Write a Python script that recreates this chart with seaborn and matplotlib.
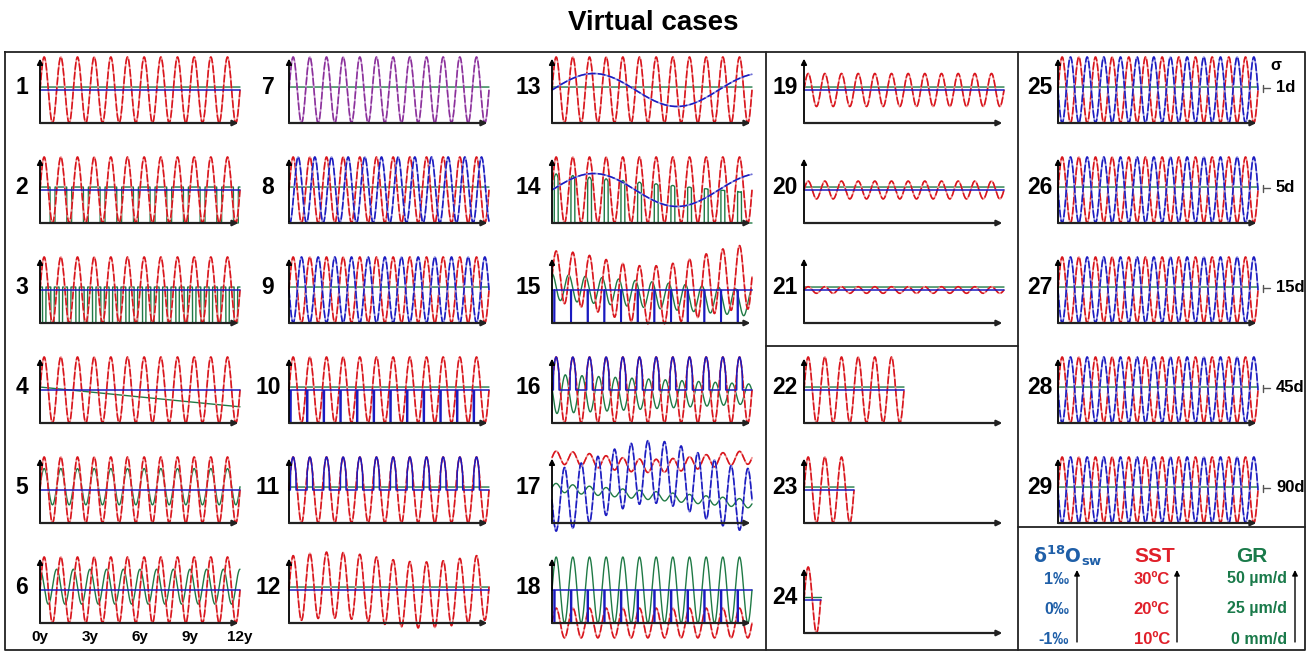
import numpy as np
import matplotlib
matplotlib.use("Agg")
import matplotlib.pyplot as plt
import seaborn as sns

sns.set_theme(style="white")
plt.rcParams["font.family"] = ["Liberation Sans", "DejaVu Sans"]
plt.rcParams["text.color"] = "black"

# ---------------- data ----------------
TITLE = "Virtual cases"
PANELS = list(range(1, 30))
YEAR_TICKS = ["0y", "3y", "6y", "9y", "12y"]
RECORD_YEARS = [12] * 21 + [6, 3, 1] + [12] * 5
SST_AMPLITUDE = [1, 1, 1, 1, 1, 1, 1, 1, 1, 1, 1, 1, 1, 1, 1, 1, 0.2, 0.45, 0.5, 0.27, 0.1, 1, 1, 1, 1, 1, 1, 1, 1]
SST_OFFSET = [0] * 16 + [0.98, -1.0] + [0] * 11
GR_LEVEL = 0.09
D18O_ANTIPHASE = [9, 25, 26, 27, 28, 29]
SIGMA_LABELS = ["1d", "5d", "15d", "45d", "90d"]
LEG_D18O = ["1‰", "0‰", "-1‰"]
LEG_SST = ["30ºC", "20ºC", "10ºC"]
LEG_GR = ["50 µm/d", "25 µm/d", "0 mm/d"]

RED, RED_L = "#d8141c", "#f09090"
BLUE, BLUE_L = "#1a1ac0", "#9090e0"
GREEN = "#1f7a45"
PURPLE = "#8a2f9a"

# ---------------- figure ----------------
W, H = 1307, 652
fig = plt.figure(figsize=(W / 100, H / 100), dpi=100)
bg = fig.add_axes([0, 0, 1, 1])
bg.set_xlim(0, W)
bg.set_ylim(H, 0)
bg.axis("off")

t = np.linspace(0, 12, 6001)
s = np.sin(2 * np.pi * t)


def px_axes(x0, ytop, w, h):
    ax = fig.add_axes([x0 / W, 1 - (ytop + h) / H, w / W, h / H])
    ax.set_xlim(0, 12)
    ax.set_ylim(-1, 1)
    ax.axis("off")
    return ax


def line(ax, x, y, color, light=None, lw=1.1, dashed=False):
    if light is not None:
        sns.lineplot(x=x, y=y, ax=ax, color=light, lw=lw + 0.1, estimator=None,
                     sort=False, legend=False, clip_on=False)
    ls = (0, (5, 1.5)) if dashed else "-"
    sns.lineplot(x=x, y=y, ax=ax, color=color, lw=lw, estimator=None, sort=False,
                 legend=False, linestyle=ls, clip_on=False)


def axes_arrows(ax):
    ax.annotate("", xy=(0, 0.95), xytext=(0, -1), xycoords="data",
                arrowprops=dict(arrowstyle="-|>", color="black", lw=1.3, mutation_scale=8,
                                shrinkA=0, shrinkB=0), annotation_clip=False)
    ax.annotate("", xy=(11.9, -1), xytext=(0, -1), xycoords="data",
                arrowprops=dict(arrowstyle="-|>", color="#222222", lw=1.6, mutation_scale=8,
                                shrinkA=0, shrinkB=0), annotation_clip=False)


def pulses(tt, phase, width, low=-1.0, high=0.0):
    return np.where(((tt - phase) % 1.0) < width, low, high)


col_x = [40, 289, 552, 804, 1058]
label_x = [22, 268, 528, 785, 1040]
col4_tops = [57, 157, 257, 357, 457, 567]

for p in PANELS:
    i = p - 1
    col = i // 6
    row = i % 6
    ytop = col4_tops[row] if col == 3 else 57 + 100 * row
    ax = px_axes(col_x[col], ytop, 200, 66)
    bg.text(label_x[col], ytop + 31, str(p), ha="center", va="center",
            fontsize=16.5, fontweight="bold")

    dur = RECORD_YEARS[i]
    m = t <= dur + 1e-9
    tt = t[m]
    ss = s[m]
    cc = np.cos(2 * np.pi * tt)
    slow = (1 - np.cos(2 * np.pi * tt / 12)) / 2
    red = SST_OFFSET[i] + SST_AMPLITUDE[i] * ss
    grn = np.full_like(tt, GR_LEVEL)
    blu = np.zeros_like(tt)
    purple = False

    if p == 2:
        grn = np.where(ss > -0.6, GR_LEVEL, -1.0)
    elif p == 3:
        grn = np.where(np.abs(ss) < 0.8, GR_LEVEL, -1.0)
    elif p == 4:
        grn = GR_LEVEL - 0.05 * tt
    elif p == 5:
        grn = 0.1 + 0.55 * ss
    elif p == 6:
        grn = 0.1 + 0.53 * cc
    elif p == 7:
        purple = True
    elif p == 8:
        blu = np.sin(2 * np.pi * (tt - 0.3))
    elif p in D18O_ANTIPHASE:
        blu = -ss
    elif p == 10:
        blu = pulses(tt, 0.06, 0.06)
    elif p == 11:
        blu = np.where(ss > 0.5, ss, 0.0)
    elif p == 12:
        red = ss + 0.15 * np.cos(2 * np.pi * (tt - 2.5) / 11)
    elif p == 13:
        blu = 0.5 * np.sin(2 * np.pi * tt / 10)
    elif p == 14:
        blu = 0.5 * np.sin(2 * np.pi * tt / 10)
        grn = np.where(ss > 0.75, (0.5 - 0.05 * tt) * ss, -1.0)
    elif p == 15:
        red = 0.4 - 0.55 * slow + (0.78 + 0.2 * tt / 12) * ss
        grn = 0.1 - 0.5 * tt / 12 + 0.4 * cc
        blu = pulses(tt, 0.12, 0.04)
    elif p == 16:
        grn = -0.12 + (0.6 - 0.025 * tt) * np.sin(2 * np.pi * (tt + 0.45))
        blu = np.where(ss > 0.5, ss, 0.0)
    elif p == 17:
        red = 0.98 - 0.25 * slow + 0.2 * ss
        blu = -0.3 + 0.85 * slow - 0.95 * ss
        grn = 0.08 - 0.5 * tt / 12 + 0.13 * ss
    elif p == 18:
        grn = ss
        blu = pulses(tt, 0.12, 0.05)

    axes_arrows(ax)
    line(ax, tt, grn, GREEN, lw=1.0)
    if purple:
        line(ax, tt, red, PURPLE, light="#c99ad2", dashed=True)
    else:
        if p in (10, 11, 15, 16, 18):
            line(ax, tt, red, RED, light=RED_L, dashed=True)
            line(ax, tt, blu, BLUE, lw=1.1)
        elif p in (8, 9, 13, 14, 17, 25, 26, 27, 28, 29):
            line(ax, tt, red, RED, light=RED_L, dashed=True)
            line(ax, tt, blu, BLUE, light=BLUE_L, dashed=True)
        else:
            line(ax, tt, red, RED, light=RED_L, dashed=True)
            line(ax, tt, blu, BLUE, lw=1.1)

# x tick labels under panel 6
for k, lab in enumerate(YEAR_TICKS):
    bg.text(col_x[0] + k * 50, 637, lab, ha="center", va="center", fontsize=11,
            fontweight="bold")

# sigma labels
bg.text(1276, 65, "σ", ha="center", va="center", fontsize=11.5, fontweight="bold")
for k, lab in enumerate(SIGMA_LABELS):
    yc = 88 + 100 * k
    bg.plot([1263, 1263], [yc - 3.5, yc + 3.5], color="#555555", lw=1)
    bg.plot([1263, 1270], [yc, yc], color="#555555", lw=1)
    bg.text(1276, yc, lab, ha="left", va="center", fontsize=12, fontweight="bold")

# frames
kw = dict(color="#222222", lw=1.3)
bg.plot([5, 1305, 1305, 5, 5], [52, 52, 650, 650, 52], **kw)
bg.plot([766, 766], [52, 650], **kw)
bg.plot([1018, 1018], [52, 650], **kw)
bg.plot([766, 1018], [346, 346], **kw)
bg.plot([1018, 1305], [527, 527], **kw)

# title
bg.text(653, 23, TITLE, ha="center", va="center", fontsize=20, fontweight="bold")

# legend box
D_BLUE, T_RED, T_GREEN = "#1f5fa8", "#e0202a", "#1a7a4a"
bg.text(1068, 556, r"$\mathbf{\delta^{18}O_{sw}}$", ha="center", va="center",
        fontsize=13.5, color=D_BLUE)
bg.text(1155, 556, "SST", ha="center", va="center", fontsize=15, fontweight="bold", color=T_RED)
bg.text(1252, 556, "GR", ha="center", va="center", fontsize=15, fontweight="bold", color=T_GREEN)
rows_y = [579, 609, 639]
for k in range(3):
    bg.text(1069, rows_y[k], LEG_D18O[k], ha="right", va="center", fontsize=11.5,
            fontweight="bold", color=D_BLUE)
    bg.text(1170, rows_y[k], LEG_SST[k], ha="right", va="center", fontsize=12,
            fontweight="bold", color=T_RED)
    bg.text(1287, rows_y[k], LEG_GR[k], ha="right", va="center", fontsize=11.5,
            fontweight="bold", color=T_GREEN)
for xa in (1077, 1177, 1295):
    bg.annotate("", xy=(xa, 570), xytext=(xa, 642),
                arrowprops=dict(arrowstyle="-|>", color="black", lw=1.0, mutation_scale=8,
                                shrinkA=0, shrinkB=0))

fig.savefig("out.png", dpi=100)
